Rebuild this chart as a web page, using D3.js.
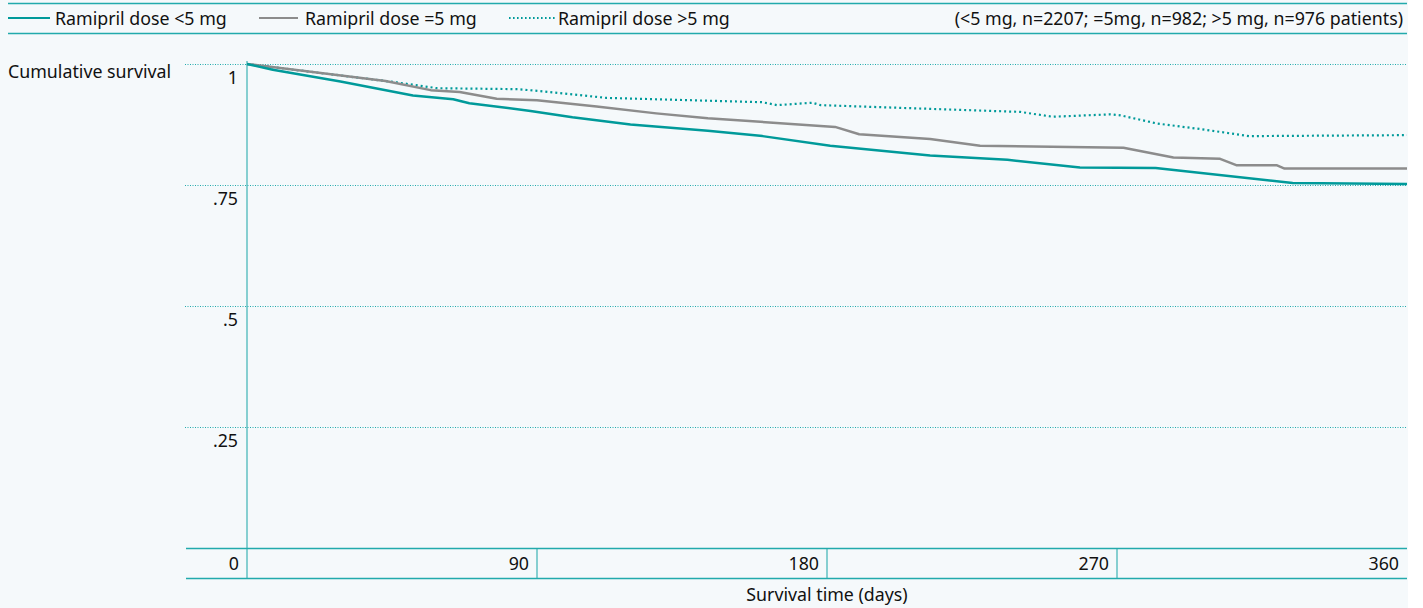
<!DOCTYPE html>
<html>
<head>
<meta charset="utf-8">
<script src="https://d3js.org/d3.v7.min.js"></script>
<style>
  body { margin: 0; background: #ffffff; }
  svg { display: block; font-family: "Noto Sans", "Open Sans", sans-serif; }
</style>
</head>
<body>
<script>
// Kaplan-Meier style curves: [day, cumulative survival]
var seriesNames = ["Ramipril dose <5 mg", "Ramipril dose =5 mg", "Ramipril dose >5 mg"];
var noteText = "(<5 mg, n=2207; =5mg, n=982; >5 mg, n=976 patients)";

var doseBelow5 = [
  [0, 1.000], [8, 0.988], [29, 0.964], [51.5, 0.935], [64, 0.927], [69, 0.919],
  [88, 0.903], [101, 0.890], [119, 0.875], [143, 0.862], [160, 0.851], [181, 0.831],
  [212, 0.811], [236, 0.802], [258.5, 0.786], [282, 0.785], [324.5, 0.754], [360, 0.752]
];
var doseEqual5 = [
  [0, 1.000], [43, 0.965], [57, 0.946], [66, 0.942], [77.5, 0.928], [90, 0.925],
  [108.5, 0.912], [127, 0.898], [143, 0.888], [182.5, 0.870], [190, 0.855], [212, 0.845],
  [227.5, 0.831], [272, 0.827], [287.5, 0.807], [302, 0.804], [307, 0.791], [319.5, 0.791],
  [322, 0.784], [360, 0.784]
];
var doseAbove5 = [
  [0, 1.000], [46.5, 0.962], [59, 0.950], [84, 0.948], [91, 0.944], [111.5, 0.930],
  [160, 0.921], [164.5, 0.915], [175.5, 0.920], [178, 0.915], [240, 0.901], [250, 0.891],
  [268, 0.896], [271, 0.894], [282.5, 0.877], [296.5, 0.865], [311, 0.851], [360, 0.853]
];

var xTicks = [0, 90, 180, 270, 360];
var yTicks = [0, 0.25, 0.5, 0.75, 1];
var yTickLabels = ["0", ".25", ".5", ".75", "1"];

var W = 1423, H = 608, fs = 17.8;
var frame = "#22aaac", curveTeal = "#009a9a", curveGray = "#8c8c8c", bg = "#f5f9fb";

var svg = d3.select("body").append("svg").attr("width", W).attr("height", H);

svg.append("rect").attr("x", 0).attr("y", 0).attr("width", 1408).attr("height", H).attr("fill", bg);

var x = d3.scaleLinear().domain([0, 360]).range([247, 1407]);
var y = d3.scaleLinear().domain([0, 1]).range([548, 64]);

// legend band
svg.append("line").attr("x1", 8).attr("x2", 1407).attr("y1", 3.5).attr("y2", 3.5)
  .attr("stroke", frame).attr("stroke-width", 1.5);
svg.append("line").attr("x1", 8).attr("x2", 1407).attr("y1", 33.5).attr("y2", 33.5)
  .attr("stroke", frame).attr("stroke-width", 1.5);

var legendItems = [
  {name: seriesNames[0], color: curveTeal, dash: null, x1: 8, x2: 50, tx: 55},
  {name: seriesNames[1], color: curveGray, dash: null, x1: 259, x2: 298, tx: 305},
  {name: seriesNames[2], color: curveTeal, dash: "1.6,2.4", x1: 509, x2: 556, tx: 558}
];
legendItems.forEach(function(d) {
  svg.append("line").attr("x1", d.x1).attr("x2", d.x2).attr("y1", 18).attr("y2", 18)
    .attr("stroke", d.color).attr("stroke-width", 2.2)
    .attr("stroke-dasharray", d.dash);
  svg.append("text").attr("x", d.tx).attr("y", 24.5).attr("font-size", fs)
    .attr("fill", "#111").text(d.name);
});
svg.append("text").attr("x", 1403).attr("y", 24.5).attr("font-size", fs)
  .attr("text-anchor", "end").attr("fill", "#111").text(noteText);

// horizontal dotted gridlines
svg.append("g").selectAll("line").data(yTicks.filter(function(d) { return d > 0; }))
  .join("line")
  .attr("x1", 185).attr("x2", 1407)
  .attr("y1", function(d) { return y(d) + 0.5; }).attr("y2", function(d) { return y(d) + 0.5; })
  .attr("stroke", frame).attr("stroke-width", 1).attr("stroke-dasharray", "1,1.5");

// y tick labels
svg.append("g").selectAll("text").data(yTicks.filter(function(d) { return d > 0; }))
  .join("text")
  .attr("x", 238).attr("y", function(d) { return y(d) + 20; })
  .attr("text-anchor", "end").attr("font-size", fs).attr("fill", "#111")
  .text(function(d) { return yTickLabels[yTicks.indexOf(d)]; });

svg.append("text").attr("x", 8).attr("y", 78).attr("font-size", fs).attr("fill", "#111")
  .text("Cumulative survival");

// x axis band
svg.append("line").attr("x1", 186).attr("x2", 1407).attr("y1", y(0) + 0.5).attr("y2", y(0) + 0.5)
  .attr("stroke", frame).attr("stroke-width", 1.5);
svg.append("line").attr("x1", 186).attr("x2", 1407).attr("y1", 578.5).attr("y2", 578.5)
  .attr("stroke", frame).attr("stroke-width", 1.5);
svg.append("g").selectAll("line").data(xTicks.filter(function(d) { return d > 0 && d < 360; }))
  .join("line")
  .attr("x1", function(d) { return x(d); }).attr("x2", function(d) { return x(d); })
  .attr("y1", y(0)).attr("y2", 578)
  .attr("stroke", frame).attr("stroke-opacity", 0.7).attr("stroke-width", 1.5);
svg.append("g").selectAll("text").data(xTicks)
  .join("text")
  .attr("x", function(d) { return Math.min(x(d) - 8, 1405); })
  .attr("y", 570)
  .attr("text-anchor", "end").attr("font-size", fs).attr("fill", "#111")
  .text(function(d) { return d; });

svg.append("text").attr("x", x(180)).attr("y", 600.5).attr("text-anchor", "middle")
  .attr("font-size", fs).attr("fill", "#111").text("Survival time (days)");

// y axis line
svg.append("line").attr("x1", x(0)).attr("x2", x(0)).attr("y1", 61).attr("y2", 578)
  .attr("stroke", frame).attr("stroke-opacity", 0.7).attr("stroke-width", 1.5);

// curves
var line = d3.line().x(function(d) { return x(d[0]); }).y(function(d) { return y(d[1]); });
var curves = [
  {data: doseAbove5, color: curveTeal, dash: "2,3", w: 2.2},
  {data: doseEqual5, color: curveGray, dash: null, w: 2.5},
  {data: doseBelow5, color: curveTeal, dash: null, w: 2.5}
];
curves.forEach(function(c) {
  svg.append("path").datum(c.data).attr("d", line)
    .attr("fill", "none").attr("stroke", c.color).attr("stroke-width", c.w)
    .attr("stroke-linejoin", "round").attr("stroke-dasharray", c.dash);
});
</script>
</body>
</html>
